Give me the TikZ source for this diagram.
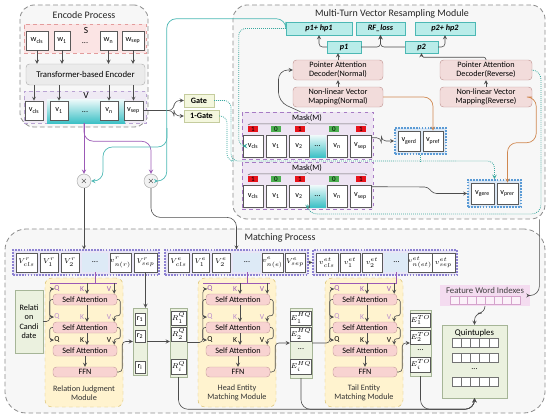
\documentclass[tikz,border=0pt]{standalone}
\usepackage{fontspec}
\setmainfont{Carlito}
\usepackage{tikz}
\usetikzlibrary{arrows,shapes,positioning,calc,decorations.pathreplacing}

\definecolor{grpline}{HTML}{8C8C8C}
\definecolor{grpfill}{HTML}{F7F7F7}
\definecolor{sfill}{HTML}{FBE4E4}
\definecolor{sline}{HTML}{E39C9C}
\definecolor{vfill}{HTML}{EFEAF4}
\definecolor{vline}{HTML}{B9A3D3}
\definecolor{tealc}{HTML}{3EC1C6}
\definecolor{tealfill}{HTML}{B9ECE9}
\definecolor{tealline}{HTML}{4CB8B4}
\definecolor{pinkfill}{HTML}{F2DCDB}
\definecolor{pinkline}{HTML}{C49A98}
\definecolor{gatefill}{HTML}{F4F7DE}
\definecolor{gateline}{HTML}{C5CC9E}
\definecolor{maskfill}{HTML}{EEE5F3}
\definecolor{maskline}{HTML}{A77BC4}
\definecolor{bluefill}{HTML}{DCE8F5}
\definecolor{blueline}{HTML}{5B9BD5}
\definecolor{bitred}{HTML}{E8141C}
\definecolor{bitgreen}{HTML}{4CAF50}
\definecolor{rowfill}{HTML}{E9E6F6}
\definecolor{rowline}{HTML}{8E82D2}
\definecolor{dotsfill}{HTML}{DDEAF6}
\definecolor{modfill}{HTML}{FFF3CF}
\definecolor{modline}{HTML}{D8BC66}
\definecolor{safill}{HTML}{F8D3D1}
\definecolor{saline}{HTML}{C9A2A0}
\definecolor{grnfill}{HTML}{EBF1DF}
\definecolor{grnline}{HTML}{A6B597}
\definecolor{fwifill}{HTML}{F4DCF0}
\definecolor{fwiline}{HTML}{D5A3CC}
\definecolor{purpln}{HTML}{9B59B6}
\definecolor{orangeln}{HTML}{D08850}
\definecolor{tealdotc}{HTML}{3AA89F}

\newcommand{\boxnode}[6]{\node[#1, minimum width={((#4)-(#2))*0.03cm}, minimum height={((#5)-(#3))*0.03cm}] (#6) at ({((#2)+(#4))/2},{((#3)+(#5))/2})}

\begin{document}
\begin{tikzpicture}[x=0.03cm, y=-0.03cm, >=stealth,
  font=\fontsize{7}{8}\selectfont,
  grp/.style={draw=grpline, dash pattern=on 4pt off 2.5pt, line width=0.7pt, fill=grpfill, rounded corners=12pt},
  ttl/.style={font=\fontsize{8.5}{10}\selectfont, text=black!85},
  cell/.style={draw=black!65, fill=white, inner sep=0pt, line width=0.5pt},
  srowst/.style={draw=sline, dashed, fill=sfill},
  enc/.style={draw=black!30, fill=black!8, rounded corners=3pt, inner sep=0pt},
  vrowst/.style={draw=vline, dashed, fill=vfill},
  tealgrad/.style={draw=none, top color=tealc!8, bottom color=tealc, inner sep=0pt},
  gatebox/.style={draw=gateline, fill=gatefill, inner sep=0pt},
  tealbox/.style={draw=tealline, fill=tealfill, inner sep=0pt},
  pinkbox/.style={draw=pinkline, fill=pinkfill, rounded corners=3pt, align=center, inner sep=0pt, font=\fontsize{7}{7.8}\selectfont},
  maskrow/.style={draw=maskline, dashed, fill=maskfill},
  bitbox/.style={minimum width=0.3cm, minimum height=0.2cm, inner sep=0pt, font=\fontsize{6}{6}\selectfont},
  bluegrp/.style={draw=blueline, dash pattern=on 1.5pt off 1pt, line width=1.5pt, fill=bluefill},
  mrow/.style={draw=rowline, dash pattern=on 1.5pt off 1pt, line width=1pt, fill=rowfill},
  mcell/.style={cell, font=\fontsize{6.5}{7}\selectfont},
  dotcell/.style={draw=none, fill=dotsfill, inner sep=0pt},
  modbox/.style={draw=modline, dashed, fill=modfill, rounded corners=6pt},
  sabox/.style={draw=saline, fill=safill, rounded corners=3pt, inner sep=0pt},
  qkv/.style={inner sep=0.3pt, font=\fontsize{6.5}{7}\selectfont},
  grnbox/.style={draw=grnline, fill=grnfill, inner sep=0pt},
  fwicell/.style={draw=fwiline, fill=white!60!fwifill, minimum width=0.2625cm, minimum height=0.24cm, inner sep=0pt},
  qcell/.style={draw=black!55, fill=white, minimum width=0.276cm, minimum height=0.27cm, inner sep=0pt},
  mul/.style={circle, draw=black!35, fill=black!5, minimum size=0.42cm, inner sep=0pt},
  conn/.style={draw=black!70, line width=0.5pt},
  tealln/.style={draw=tealline, line width=0.6pt},
  tealdot/.style={draw=tealdotc, densely dotted, line width=0.7pt},
  purp/.style={draw=purpln, line width=0.6pt},
  orng/.style={draw=orangeln, line width=0.6pt}]
\useasboundingbox (0,0) rectangle (550,419);

% encode process
\boxnode{grp}{20}{5}{148}{127}{encbox} {};
\node[ttl] (enctitle) at (84,15) {Encode Process};
\boxnode{srowst}{24}{24}{146}{53}{sbox} {};
\node (slabel) at (86,30) {\fontsize{8}{9}\selectfont S};
\boxnode{cell}{26}{31}{48}{50}{wcls} {w\textsubscript{cls}};
\boxnode{cell}{54}{31}{70}{50}{w1} {w\textsubscript{1}};
\node (wdots) at (85,43) {...};
\boxnode{cell}{100}{31}{117}{50}{wn} {w\textsubscript{n}};
\boxnode{cell}{122}{31}{144}{50}{wsep} {w\textsubscript{sep}};
\boxnode{enc}{26}{64}{145}{85}{encoder} {\fontsize{7.5}{8}\selectfont Transformer-based Encoder};
\boxnode{vrowst}{24}{91}{146}{123}{vbox} {};
\boxnode{tealgrad}{47}{99}{125}{123}{vteal} {};
\node (vlabel) at (86,95) {\fontsize{8}{9}\selectfont V};
\boxnode{cell}{25}{101}{43}{120}{vcls} {v\textsubscript{cls}};
\boxnode{cell}{50}{101}{68}{120}{v1} {v\textsubscript{1}};
\node (vdots) at (85,112) {...};
\boxnode{cell}{100}{101}{118}{120}{vn} {v\textsubscript{n}};
\boxnode{cell}{124}{101}{143}{120}{vsep} {v\textsubscript{sep}};
\foreach \wc in {wcls,w1,wn,wsep}
  \draw[conn,->] (\wc) -- (\wc |- encoder.north);
\foreach \vc in {vcls,v1,vn,vsep}
  \draw[conn,->] (encoder.south -| \vc) -- (\vc);

% gates and products
\boxnode{gatebox}{184}{94}{214}{107}{gate} {\textbf{Gate}};
\boxnode{gatebox}{184}{110}{219}{122}{onegate} {\textbf{1-Gate}};
\node[mul] (mulA) at (84,181) {$\times$};
\node[mul] (mulB) at (151,181) {$\times$};

% multi-turn vector resampling
\boxnode{grp}{233}{5}{545}{219}{mtbox} {};
\node[ttl] (mttitle) at (392,14) {Multi-Turn Vector Resampling Module};
\boxnode{tealbox}{286}{22}{352}{35}{p1hp} {\textbf{\textit{p1+ hp1}}};
\boxnode{tealbox}{356}{22}{405}{35}{rfloss} {\textbf{\textit{RF\_loss}}};
\boxnode{tealbox}{415}{22}{475}{35}{p2hp} {\textbf{\textit{p2+ hp2}}};
\boxnode{tealbox}{327}{41}{361}{53}{p1} {\textbf{\textit{p1}}};
\boxnode{tealbox}{405}{41}{438}{53}{p2} {\textbf{\textit{p2}}};
\boxnode{pinkbox}{293}{60}{383}{80}{padn} {Pointer Attention\\Decoder(Normal)};
\boxnode{pinkbox}{293}{87}{383}{107}{nlvn} {Non-linear Vector\\Mapping(Normal)};
\boxnode{pinkbox}{440}{60}{532}{80}{padr} {Pointer Attention\\Decoder(Reverse)};
\boxnode{pinkbox}{440}{87}{532}{107}{nlvr} {Non-linear Vector\\Mapping(Reverse)};

\foreach \r/\yt in {1/112,2/162} {
  \boxnode{maskrow}{242}{\yt}{373}{\yt+47}{m\r-row} {};
  \node (m\r-title) at (307,\yt+6) {Mask(M)};
  \draw[decorate, decoration={brace, amplitude=2pt}, draw=black!60] (248,\yt+13) -- (367,\yt+13);
  \foreach \bx/\bv/\bc in {253/1/bitred, 276/0/bitgreen, 300/1/bitred, 334/0/bitgreen, 361/1/bitred}
    \node[bitbox, fill=\bc] (m\r-b\bx) at (\bx,\yt+17) {\bv};
  \boxnode{tealgrad}{309}{\yt+23}{326}{\yt+45}{m\r-dots} {...};
  \boxnode{cell}{243}{\yt+23}{263}{\yt+45}{m\r-cls} {v\textsubscript{cls}};
  \boxnode{cell}{266}{\yt+23}{286}{\yt+45}{m\r-v1} {v\textsubscript{1}};
  \boxnode{cell}{289}{\yt+23}{309}{\yt+45}{m\r-v2} {v\textsubscript{2}};
  \boxnode{cell}{327}{\yt+23}{347}{\yt+45}{m\r-vn} {v\textsubscript{n}};
  \boxnode{cell}{350}{\yt+23}{371}{\yt+45}{m\r-vsep} {v\textsubscript{sep}};
}

\boxnode{bluegrp}{395}{128}{446}{154}{bg1} {};
\boxnode{cell}{398}{131}{420}{151}{vgerd} {v\textsubscript{gerd}};
\boxnode{cell}{423}{131}{443}{151}{vpref} {v\textsubscript{pref}};
\boxnode{bluegrp}{468}{180}{521}{207}{bg2} {};
\boxnode{cell}{471}{183}{494}{204}{vgere} {v\textsubscript{gere}};
\boxnode{cell}{497}{183}{518}{204}{vprer} {v\textsubscript{prer}};

% matching process
\boxnode{grp, rounded corners=18pt}{5}{229}{545}{413}{mpbox} {};
\node[ttl] (mptitle) at (280,238) {Matching Process};

\boxnode{mrow}{13}{250}{159}{275}{vrrow} {};
\boxnode{mcell}{16}{253}{37}{272}{rcls} {$V^{r}_{cls}$};
\boxnode{mcell}{40}{253}{58}{272}{r1} {$V^{r}_{1}$};
\boxnode{mcell}{61}{253}{79}{272}{r2} {$V^{r}_{2}$};
\boxnode{dotcell}{82}{253}{108}{272}{rdots} {...};
\boxnode{mcell}{110}{253}{131}{272}{rn} {$v^{r}_{n(r)}$};
\boxnode{mcell}{134}{253}{157}{272}{rsep} {$V^{r}_{sep}$};

\boxnode{mrow}{165}{250}{308}{275}{verow} {};
\boxnode{mcell}{168}{253}{189}{272}{ecls} {$V^{e}_{cls}$};
\boxnode{mcell}{192}{253}{209}{272}{e1} {$V^{e}_{1}$};
\boxnode{mcell}{212}{253}{230}{272}{e2} {$V^{e}_{2}$};
\boxnode{dotcell}{233}{253}{261}{272}{edots} {...};
\boxnode{mcell}{262}{253}{283}{272}{en} {$v^{e}_{n(e)}$};
\boxnode{mcell}{285}{253}{305}{272}{esep} {$V^{e}_{sep}$};

\boxnode{mrow}{313}{250}{457}{275}{etrow} {};
\boxnode{mcell}{316}{253}{338}{272}{tcls} {$v^{et}_{cls}$};
\boxnode{mcell}{340}{253}{360}{272}{t1} {$v^{et}_{1}$};
\boxnode{mcell}{362}{253}{382}{272}{t2} {$v^{et}_{2}$};
\boxnode{dotcell}{384}{253}{409}{272}{tdots} {...};
\boxnode{mcell}{410}{253}{430}{272}{tn} {\fontsize{5.5}{6}\selectfont$v^{et}_{n(et)}$};
\boxnode{mcell}{432}{253}{455}{272}{tsep} {$v^{et}_{sep}$};

\boxnode{grnbox, align=center}{15}{290}{43}{353}{relcand} {Relati\\on\\Candi\\date};

\boxnode{grnbox}{133}{308}{147}{375}{rcol} {};
\boxnode{cell}{135}{313}{145}{325}{rc1} {r\textsubscript{1}};
\boxnode{cell}{135}{330}{145}{342}{rc2} {r\textsubscript{2}};
\boxnode{cell}{135}{361}{145}{373}{rci} {r\textsubscript{i}};

\boxnode{grnbox}{170}{308}{187}{377}{rqcol} {};
\boxnode{mcell}{171}{311}{186}{325}{rq1} {$R^{Q}_{1}$};
\boxnode{mcell}{171}{327}{186}{341}{rq2} {$R^{Q}_{2}$};
\boxnode{mcell}{171}{359}{186}{374}{rqi} {$R^{Q}_{i}$};

\boxnode{grnbox}{290}{308}{312}{378}{ehqcol} {};
\boxnode{mcell}{292}{311}{310}{325}{ehq1} {$E^{HQ}_{1}$};
\boxnode{mcell}{292}{327}{310}{341}{ehq2} {$E^{HQ}_{2}$};
\node (ehqdots) at (301,349) {...};
\boxnode{mcell}{292}{359}{310}{374}{ehqi} {$E^{HQ}_{i}$};

\boxnode{grnbox}{410}{310}{431}{376}{etocol} {};
\boxnode{mcell}{412}{313}{429}{327}{eto1} {$E^{TO}_{1}$};
\boxnode{mcell}{412}{330}{429}{344}{eto2} {$E^{TO}_{2}$};
\node (etodots) at (420.5,350) {...};
\boxnode{mcell}{412}{357}{429}{372}{etoi} {$E^{TO}_{i}$};

\foreach \mname/\xl/\src/\lsrc/\dst/\ttl in {rjm/45/rdots/relcand/rcol/{Relation Judgment\\Module},
    hem/198/edots/rqcol/ehqcol/{Head Entity\\Matching Module},
    tem/325/tdots/ehqcol/etocol/{Tail Entity\\Matching Module}} {
  \boxnode{modbox}{\xl}{278}{\xl+78}{407}{\mname} {};
  \node[align=center, text=black!80] (\mname-title) at (\xl+39,393) {\ttl};
  \boxnode{sabox}{\xl+8}{294}{\xl+72}{305}{\mname-sa1} {Self Attention};
  \boxnode{sabox}{\xl+8}{322}{\xl+72}{333}{\mname-sa2} {Self Attention};
  \boxnode{sabox}{\xl+8}{345}{\xl+72}{356}{\mname-sa3} {Self Attention};
  \boxnode{sabox}{\xl+8}{367}{\xl+72}{377}{\mname-ffn} {FFN};
  \foreach \k/\yy/\cc in {1/289/purpln, 2/317/purpln!70, 3/340/black} {
    \node[qkv, text=\cc] (\mname-q\k) at (\xl+12,\yy) {Q};
    \node[qkv, text=\cc] (\mname-k\k) at (\xl+37,\yy) {K};
    \node[qkv, text=\cc] (\mname-v\k) at (\xl+64,\yy) {V};
  }
  \coordinate (\mname-hub) at (\xl+40,283);
  \draw[purp] (\xl+5,283) -- (\xl+72,283);
  \draw[purp] (\src.south) -- (\src.south |- \mname-hub);
  \draw[conn,->] ($(\mname-sa1.north)+(2,-11)$) -- ($(\mname-sa1.north)+(2,0)$);
  \draw[conn,->] ($(\mname-sa1.north east)+(-3,-11)$) -- ($(\mname-sa1.north east)+(-3,0)$);
  \draw[conn,->,rounded corners=3pt] (\lsrc.east) -| ($(\mname-q1.west)+(-4,0)$) -- (\mname-q1.west);
  \foreach \k [evaluate=\k as \kk using int(\k+1)] in {1,2} {
    \draw[conn,->,rounded corners=2pt] (\mname-sa\k.west) -- ++(-3,0) |- (\mname-q\kk.west);
    \draw[conn,->,rounded corners=2pt] (\mname-sa\k.east) -- ++(3,0) |- ($(\mname-sa\kk.north east)+(-3,-6)$) -- ($(\mname-sa\kk.north east)+(-3,0)$);
    \draw[conn,->] ($(\mname-sa\k.south)+(2,0)$) -- ($(\mname-sa\kk.north)+(2,0)$);
  }
  \draw[conn,->] (\mname-sa3) -- (\mname-ffn);
  \draw[conn,->,rounded corners=3pt] (\mname-ffn.east) -- ++(5,0) |- (\dst.west);
}

\boxnode{draw=none, fill=fwifill}{440}{285}{530}{306}{fwi} {};
\node[text=black!75] (fwititle) at (485,290) {\fontsize{7.5}{8}\selectfont Feature Word Indexes};
\foreach \i in {0,...,7}
  \node[fwicell] (fw\i) at (454.4+\i*8.75,300) {};

\boxnode{grnbox}{442}{325}{507}{398}{qbox} {};
\node (qtitle) at (474.5,333) {\fontsize{7.5}{8}\selectfont Quintuples};
\foreach \qr/\qy in {1/342.5, 2/357.5, 3/382}
  \foreach \i in {0,...,4}
    \node[qcell] (q\qr-\i) at (456.6+\i*9.2,\qy) {};
\node (qdots) at (474.5,369) {...};

% connectors, encode side
\draw[conn,->,rounded corners=5pt] (vsep.east) -- (174,110.5) |- (gate.west);
\draw[conn,->,rounded corners=5pt] (vsep.east) -- (174,110.5) |- (onegate.west);
\draw[purp,->] (mulA |- vbox.south) -- (mulA);
\draw[purp,->,rounded corners=8pt] (mulA |- vbox.south) -- ++(0,18) -| (mulB);
\draw[tealln,->,rounded corners=8pt] (p1hp.north west) -- ++(0,-3) -- ++(-119,0) |- (mulB.east);
\coordinate (tsplit) at (167,128);
\draw[tealln,->,rounded corners=8pt] (tsplit) |- (103,147) |- (mulA.east);
\draw[conn,->] (mulA) -- (mulA |- vrrow.north);
\draw[conn,->,rounded corners=8pt] (mulB) |- ($(verow.north)+(0,-32)$) -- (verow.north);

% connectors, resampling module
\draw[conn,->,rounded corners=3pt] (p1.west) -| (p1hp.south);
\draw[conn,->,rounded corners=3pt] (p1.east) -| (rfloss.south);
\draw[conn,->,rounded corners=3pt] (p2.west) -| (rfloss.south);
\draw[conn,->,rounded corners=3pt] (p2.east) -| (p2hp.south);
\draw[conn,->] (nlvn) -- (padn);
\draw[conn,->] (padn) -- (padn.north |- p1.south);
\draw[conn,->] (nlvr) -- (padr);
\draw[conn,->,rounded corners=2pt] (padr.north) |- ($(p2.south)+(0,4)$) -- (p2.south);
\draw[conn,->,rounded corners=8pt] ($(m1-row.north)+(-7,0)$) -- ++(-22,-10) |- (padn.west);
\draw[conn,->,rounded corners=4pt] ($(m1-vsep.north east)+(0,3)$) -- ++(10,0) |- (bg1.west);
\draw[conn,->,rounded corners=3pt] ($(m2-vsep.north east)+(0,2)$) -- (428,187) -- (433,193.5) -- (bg2.west);
\draw[orng,->,rounded corners=8pt] (nlvn.east) -| (vpref.north);
\draw[orng,->,rounded corners=8pt] (nlvr.east) -- ++(4,0) |- ($(vprer.north)+(0,-40)$) -- (vprer.north);
\draw[tealdot,->,rounded corners=6pt] (p1hp.west) -| ($(m1-cls.west)+(-4,0)$) -- (m1-cls.west);
\draw[tealdot,->,rounded corners=6pt] (gate.east) -| (231,161) -| (bg2.north);
\draw[tealdot,rounded corners=6pt] (onegate.east) -| (227,161) -- (231,161);
\draw[tealdot] (bg1.south) -- ++(0,7);
\draw[tealdot,->,rounded corners=8pt] (padr.east) -| (541,214) -| (m2-row.south);
\draw[conn,->,rounded corners=8pt] ($(mtbox.south east)+(-6,0)$) |- (fwi.east);

% connectors, matching process
\draw[conn,->] (verow) -- (etrow);
\draw[conn,->] (rsep.south) -- (rsep.south |- rcol.north);
\draw[conn,->] (rcol.east) -- (rcol.east -| rqcol.west);
\draw[conn,->,rounded corners=6pt] (fwi.south) -- ++(0,7) -| (qbox.north);
\foreach \col in {rqcol,ehqcol,etocol}
  \draw[conn,->,rounded corners=8pt] (\col.south) |- ($(qbox.south)+(0,11)$) -- (qbox.south);
\end{tikzpicture}
\end{document}
